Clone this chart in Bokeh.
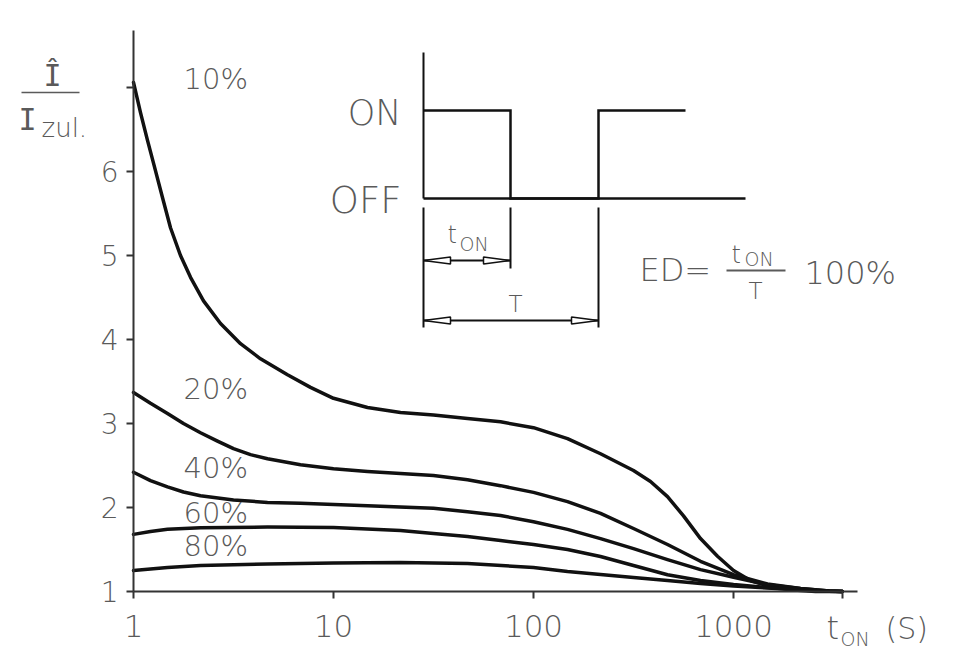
from bokeh.plotting import figure
from bokeh.models import FixedTicker, Label, Range1d
from bokeh.embed import file_html
from bokeh.resources import INLINE

# ---------------- data ----------------
t_10 = [1, 1.084, 1.175, 1.259, 1.396, 1.531, 1.718, 1.928, 2.239, 2.723, 3.428, 4.315,
        5.888, 7.674, 10, 14.79, 21.63, 31.62, 46.77, 68.39, 100, 147.9, 216.3, 316.2,
        384.6, 467.7, 562.3, 683.9, 831.8, 1000, 1216, 1479, 1928, 2570, 3508]
y_10 = [7.06, 6.70, 6.37, 6.10, 5.69, 5.33, 5.00, 4.74, 4.46, 4.19, 3.95, 3.77,
        3.58, 3.43, 3.30, 3.19, 3.13, 3.10, 3.06, 3.02, 2.95, 2.82, 2.64, 2.44,
        2.31, 2.13, 1.90, 1.63, 1.42, 1.25, 1.13, 1.07, 1.02, 1.0, 1.0]

t_20 = [1, 1.216, 1.479, 1.778, 2.163, 2.630, 3.162, 3.846, 4.677, 6.839, 10, 14.79,
        21.63, 31.62, 46.77, 68.39, 100, 147.9, 216.3, 316.2, 467.7, 683.9, 1000, 1479,
        2163, 3006, 3508]
y_20 = [3.37, 3.24, 3.12, 3.00, 2.89, 2.79, 2.70, 2.63, 2.58, 2.51, 2.46, 2.43,
        2.405, 2.38, 2.33, 2.26, 2.18, 2.07, 1.93, 1.75, 1.56, 1.36, 1.20, 1.09,
        1.036, 1.006, 1.0]

t_40 = [1, 1.216, 1.479, 1.778, 2.163, 3.162, 4.677, 6.839, 14.79, 31.62, 46.77, 68.39,
        100, 147.9, 216.3, 316.2, 467.7, 683.9, 1000, 1479, 2163, 3006, 3508]
y_40 = [2.42, 2.32, 2.245, 2.185, 2.14, 2.09, 2.06, 2.05, 2.02, 1.99, 1.95, 1.905,
        1.83, 1.74, 1.63, 1.51, 1.38, 1.26, 1.17, 1.08, 1.036, 1.006, 1.0]

t_60 = [1, 1.216, 1.479, 2.163, 4.677, 10, 21.63, 31.62, 46.77, 68.39, 100, 147.9,
        216.3, 316.2, 467.7, 683.9, 1000, 1479, 2163, 3006, 3508]
y_60 = [1.68, 1.715, 1.74, 1.758, 1.768, 1.762, 1.726, 1.69, 1.655, 1.607, 1.56, 1.50,
        1.417, 1.31, 1.20, 1.13, 1.083, 1.048, 1.018, 1.004, 1.0]

t_80 = [1, 1.479, 2.163, 4.677, 10, 21.63, 46.77, 100, 147.9, 216.3, 316.2, 467.7,
        683.9, 1000, 1479, 2163, 3006, 3508]
y_80 = [1.25, 1.286, 1.31, 1.327, 1.339, 1.345, 1.333, 1.286, 1.238, 1.202, 1.167, 1.131,
        1.095, 1.065, 1.042, 1.018, 1.004, 1.0]

series_names = ["10%", "20%", "40%", "60%", "80%"]
x_ticks = [1, 10, 100, 1000, 3500]
x_tick_labels = ["1", "10", "100", "1000", ""]
y_ticks = [1, 2, 3, 4, 5, 6, 7]
y_tick_labels = ["1", "2", "3", "4", "5", "6", ""]

# ---------------- layout ----------------
FONT = "DejaVu Sans Light, Lato Light, Roboto Light, DejaVu Sans"
MONO = "DejaVu Sans Mono"
TXT = "#5a5a5a"
INK = "#111111"
AX = "#333333"

W, H = 950, 660
PX_DEC = 200.0     # pixels per decade on the time axis
PX_UNIT = 84.0     # pixels per unit on the ratio axis
OX, OY = 133, 591  # canvas pixel of data point (1, 1)
X_AXIS_END_PX = 857
Y_AXIS_END_PX = 30


def dx(px):
    return 10 ** ((px - OX) / PX_DEC)


def dy(py):
    return 1 + (OY - py) / PX_UNIT


p = figure(width=W, height=H, x_axis_type="log",
           x_range=Range1d(dx(0), dx(W)), y_range=Range1d(dy(H), dy(0)),
           output_backend="svg", toolbar_location=None,
           min_border=0, min_border_left=0, min_border_right=0,
           min_border_top=0, min_border_bottom=0)
p.outline_line_color = None
p.grid.visible = False
p.background_fill_color = "white"
p.border_fill_color = "white"

for ax in (p.xaxis[0], p.yaxis[0]):
    ax.axis_line_color = AX
    ax.axis_line_width = 2
    ax.major_tick_line_color = AX
    ax.major_tick_line_width = 2
    ax.major_tick_in = 0
    ax.major_tick_out = 7
    ax.minor_tick_line_color = None
    ax.major_label_text_font = FONT
    ax.major_label_text_color = TXT
    ax.fixed_location = 1

p.xaxis.bounds = (1, dx(X_AXIS_END_PX))
p.yaxis.bounds = (1, dy(Y_AXIS_END_PX))
p.xaxis.ticker = FixedTicker(ticks=x_ticks, minor_ticks=[])
p.xaxis.major_label_overrides = dict(zip(x_ticks, x_tick_labels))
p.xaxis.major_label_text_font_size = "31px"
p.xaxis.major_label_standoff = 16
p.yaxis.ticker = FixedTicker(ticks=y_ticks, minor_ticks=[])
p.yaxis.major_label_overrides = dict(zip(y_ticks, y_tick_labels))
p.yaxis.major_label_text_font_size = "28px"
p.yaxis.major_label_standoff = 8

# curves
for ts, ys in [(t_10, y_10), (t_20, y_20), (t_40, y_40), (t_60, y_60), (t_80, y_80)]:
    p.line(ts, ys, line_color=INK, line_width=3.5, line_join="round", line_cap="round")


def label(text, px, py, size, align="left", font=FONT, color=TXT):
    p.add_layout(Label(x=dx(px), y=dy(py), text=text, text_font=font,
                       text_font_size=f"{size}px", text_color=color,
                       text_align=align, text_baseline="middle"))


def seg_line(pxs, pys, width=2.5, color=INK):
    p.line([dx(v) for v in pxs], [dy(v) for v in pys], line_color=color,
           line_width=width, line_join="miter")


# curve labels
for name, py in zip(series_names, [78, 388, 467, 512, 545]):
    label(name, 183, py, 29)

# y-axis label (fraction)
label("Î", 52, 75, 30, align="center", font=MONO)
seg_line([21, 79], [92, 92], 1.6, TXT)
label("I", 27, 119, 30, align="center", font=MONO)
label("zul.", 41, 127, 26)

# x-axis label
label("t", 826, 627, 32)
label("ON", 840, 638, 19)
label("(S)", 885, 628, 30)

# ---------------- inset: duty-cycle diagram ----------------
seg_line([423, 423], [52, 198], 2)
seg_line([423, 745], [198, 198], 2.5)
seg_line([423, 510, 510, 598, 598, 685], [110, 110, 198, 198, 110, 110], 2.5)
seg_line([423, 423], [207, 327], 2)
seg_line([510, 510], [207, 268], 2)
seg_line([598, 598], [207, 327], 2)
seg_line([423, 510], [260, 260], 1.8)
seg_line([423, 598], [320, 320], 1.8)
seg_line([726, 785], [270, 270], 1.8, TXT)

heads = [(423, 260, 1), (510, 260, -1), (423, 320, 1), (598, 320, -1)]
hx, hy = [], []
for tx, ty, d in heads:
    hx.append([dx(tx), dx(tx + d * 27), dx(tx + d * 27)])
    hy.append([dy(ty), dy(ty - 3.5), dy(ty + 3.5)])
p.patches(hx, hy, fill_color="white", line_color=INK, line_width=1.5)

label("ON", 401, 112, 35, align="right")
label("OFF", 401, 200, 37, align="right")
label("t", 447, 234, 24)
label("ON", 459, 243, 19)
label("T", 515, 303, 23, align="center")

# formula
label("ED=", 639, 269, 32)
label("t", 731, 254, 24)
label("ON", 744, 258, 19)
label("T", 755, 290, 23, align="center")
label("100%", 804, 272, 32)

open("out.html", "w").write(file_html(p, INLINE))
